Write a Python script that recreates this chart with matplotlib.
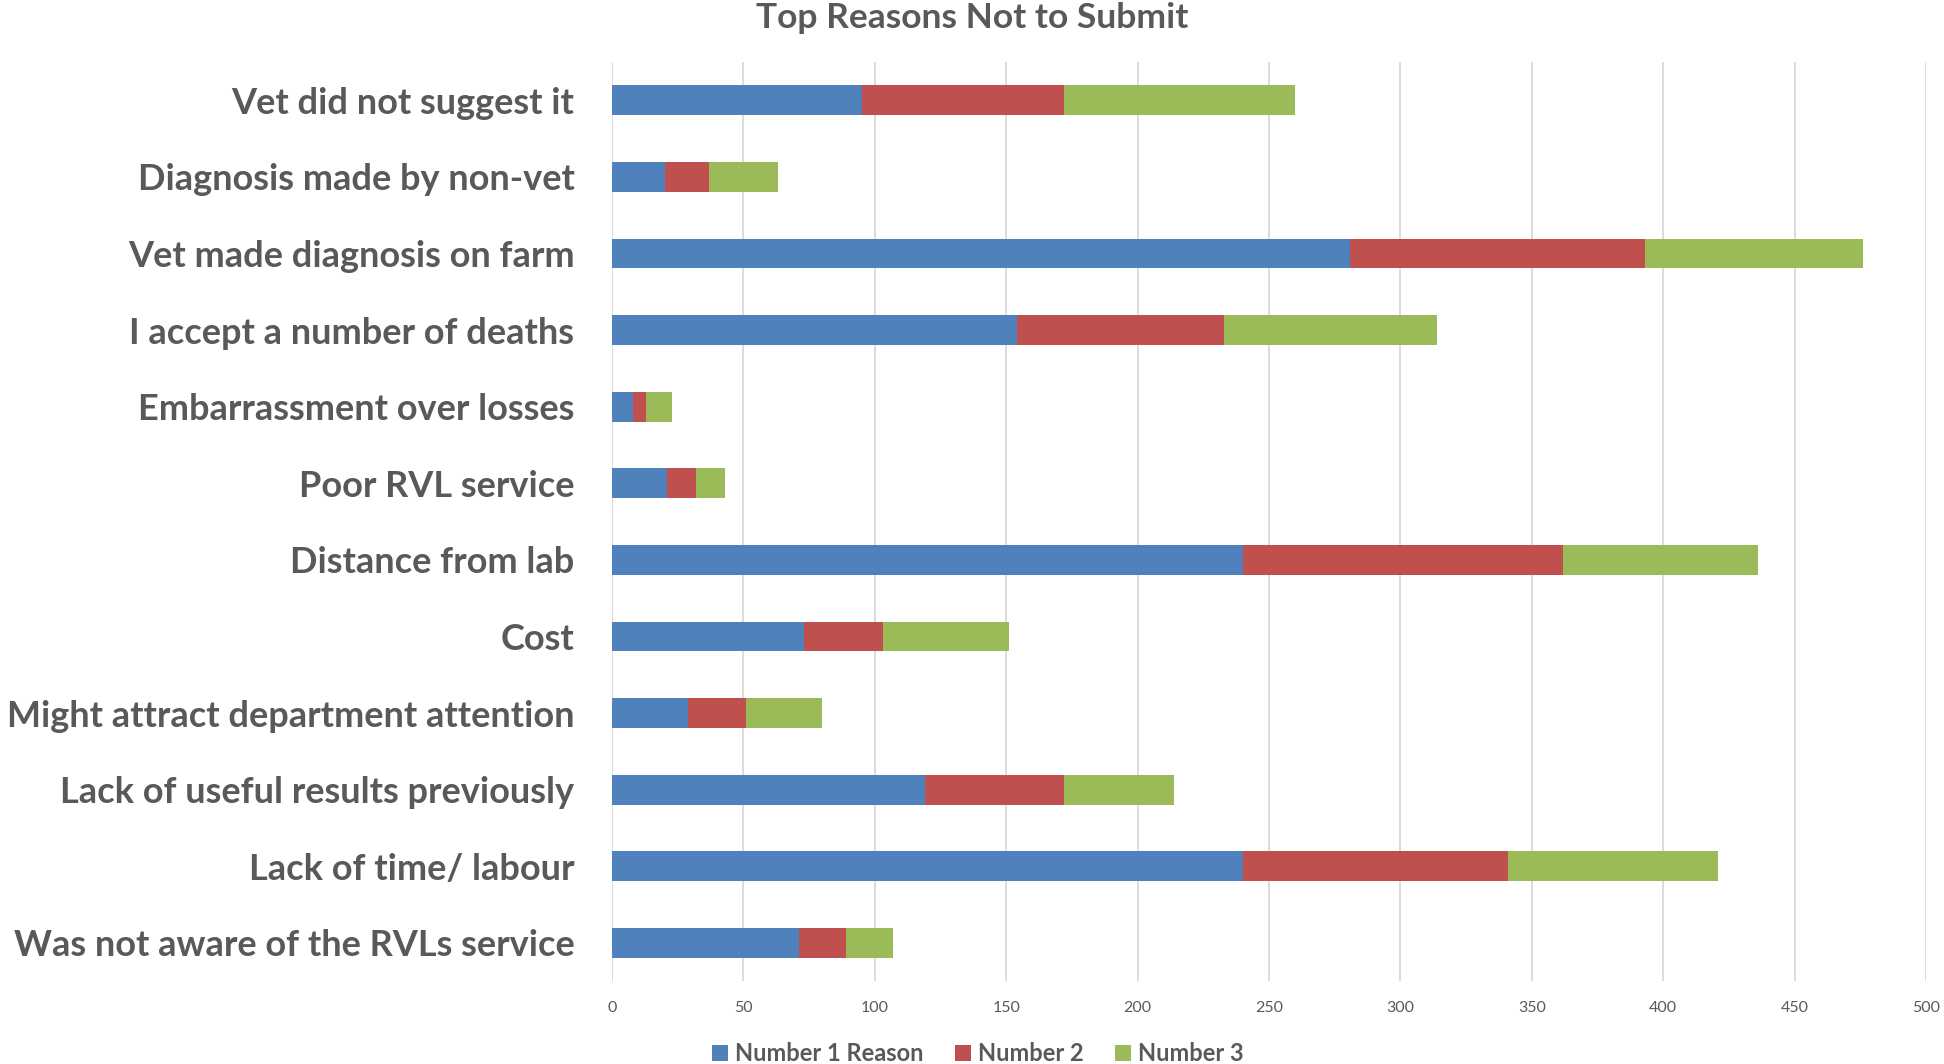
import matplotlib.pyplot as plt
import numpy as np

# reasons, top to bottom as in the chart
reasons = [
    "Vet did not suggest it",
    "Diagnosis made by non-vet",
    "Vet made diagnosis on farm",
    "I accept a number of deaths",
    "Embarrassment over losses",
    "Poor RVL service",
    "Distance from lab",
    "Cost",
    "Might attract department attention",
    "Lack of useful results previously",
    "Lack of time/ labour",
    "Was not aware of the RVLs service",
]
number1 = [95, 20, 281, 154, 8, 21, 240, 73, 29, 119, 240, 71]
number2 = [77, 17, 112, 79, 5, 11, 122, 30, 22, 53, 101, 18]
number3 = [88, 26, 83, 81, 10, 11, 74, 48, 29, 42, 80, 18]

series_names = ["Number 1 Reason", "Number 2", "Number 3"]
colors = ["#4F81BD", "#C0504D", "#9BBB59"]
text_grey = "#595959"

plt.rcParams['font.family'] = ['Lato', 'DejaVu Sans']

fig = plt.figure(figsize=(19.44, 10.64), dpi=100)
ax = fig.add_axes([0.3148, 0.0779, 0.6759, 0.8638])

y = np.arange(len(reasons))
left = np.zeros(len(reasons))
for vals, name, col in zip([number1, number2, number3], series_names, colors):
    ax.barh(y, vals, left=left, height=0.39, color=col, label=name, zorder=3)
    left = left + np.array(vals)

ax.set_ylim(len(reasons) - 0.5, -0.5)
ax.set_xlim(0, 500)
ax.set_xticks(range(0, 501, 50))
ax.set_yticks(y)
ax.set_yticklabels(reasons, fontsize=26, color=text_grey, fontweight='bold')
ax.tick_params(axis='y', length=0, pad=27)
ax.tick_params(axis='x', length=0, pad=14, labelsize=11.5, labelcolor=text_grey)
ax.grid(axis='x', color="#D9D9D9", linewidth=1.3, zorder=0)
for s in ax.spines.values():
    s.set_visible(False)

fig.suptitle("Top Reasons Not to Submit", y=0.998, va='top', fontsize=25.5,
             color=text_grey, fontweight='bold')

leg = fig.legend(loc='lower center', bbox_to_anchor=(0.503, -0.021), ncol=3, frameon=False,
                 labelcolor=text_grey, handlelength=0.7, handleheight=0.7,
                 handletextpad=0.3, columnspacing=1.3, prop={'weight': 'bold', 'size': 17})

fig.savefig("out.png", dpi=100)
